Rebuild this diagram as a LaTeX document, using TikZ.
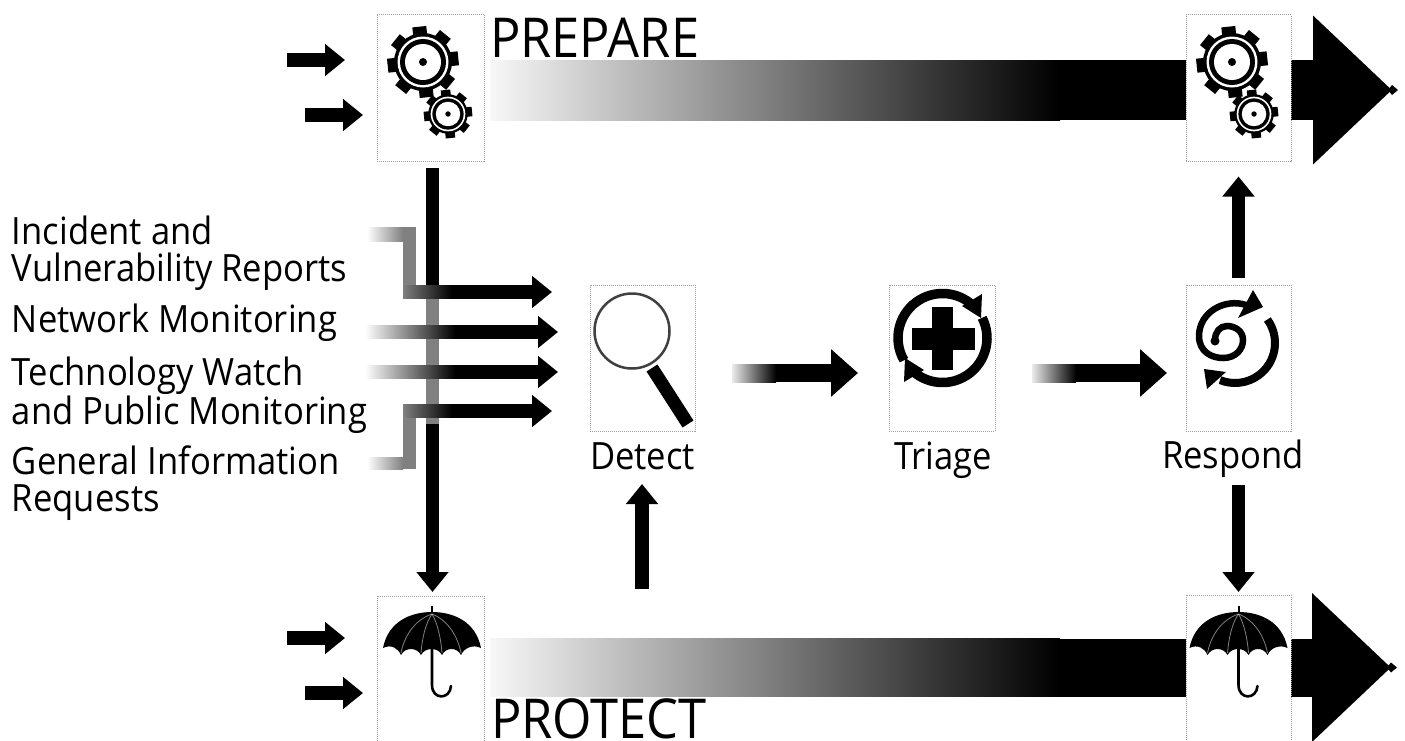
\documentclass[tikz,border=0pt]{standalone}
\usepackage{fontspec}
\setmainfont[FakeStretch=0.92]{Open Sans}
\usetikzlibrary{arrows.meta}
\tikzset{
  iconbox/.style={draw=black!38,line width=1pt,densely dotted,fill=white,inner sep=0pt,outer sep=0pt},
  barnode/.style={inner sep=0pt,outer sep=0pt,draw=none},
  thinarrow/.style={line width=13.5pt,draw=black,-{Triangle[length=20pt,width=31pt]}},
  midarrow/.style={line width=18pt,draw=black,-{Triangle[length=27pt,width=46pt]}},
  bigarrow/.style={draw=black,-{Triangle[length=79pt,width=144pt]}},
  lab/.style={inner sep=0pt,outer sep=0pt,align=left,font=\fontsize{37.6}{37}\selectfont},
  boxlab/.style={inner sep=0pt,outer sep=0pt,font=\fontsize{37.6}{37}\selectfont},
  title/.style={inner sep=0pt,outer sep=0pt,font=\fontsize{55}{60}\selectfont},
  gearicon/.pic={
    \fill[black] (0,0) circle (29);
    \foreach \a in {0,45,...,315}{
      \fill[black,rotate=\a+6] (-7,-35.5) rectangle (7,-20);
    }
    \fill[white] (0,0) circle (25.5);
    \fill[black] (0,0) circle (23);
    \fill[white] (0,0) circle (18);
    \fill[black] (0,0) circle (4);
  },
  umbrellaicon/.pic={
    \draw[line width=2.6pt,black,line cap=round] (0,36) -- (0,73) .. controls (0,88) and (18,88) .. (19,74);
    \fill[black] (-49,36) .. controls (-44,10) and (-22,0) .. (0,0)
      .. controls (22,0) and (44,10) .. (49,36)
      .. controls (41,32) and (32,36) .. (29,43)
      .. controls (25,35) and (14,35) .. (10,43)
      .. controls (6,35) and (-7,35) .. (-11,43)
      .. controls (-15,35) and (-27,35) .. (-31,43)
      .. controls (-34,36) and (-41,32) .. (-49,36) -- cycle;
    \fill[black] (-1,-6) -- (1,-6) -- (1,2) -- (-1,2) -- cycle;
    \draw[white,line width=0.8pt,opacity=.5] (0,2) .. controls (-18,8) and (-28,25) .. (-31,41);
    \draw[white,line width=0.8pt,opacity=.5] (0,2) .. controls (-7,12) and (-10,28) .. (-11,41);
    \draw[white,line width=0.8pt,opacity=.5] (0,2) .. controls (6,12) and (9,28) .. (10,41);
    \draw[white,line width=0.8pt,opacity=.5] (0,2) .. controls (16,8) and (26,25) .. (29,41);
  }
}
\newcommand{\gradbar}[7]{% name, x1, x2, ycentre, height, left colour, right colour
  \node[barnode,minimum width={(#3-#2)*1pt},minimum height=#5pt,left color=#6,right color=#7] (#1) at ({(#2+#3)/2},#4) {};
}
\begin{document}
\begin{tikzpicture}[x=1pt,y=-1pt]
\useasboundingbox (0,0) rectangle (1405,740);
\clip (0,0) rectangle (1405,740);
\fill[white] (0,0) rectangle (1405,740);

% large gradient bars
\gradbar{prepBar}{490}{1060}{90}{60}{black!3}{black}
\gradbar{protBar}{490}{1060}{667.5}{58}{black!3}{black}
\coordinate (prepTip) at (1392,90);
\coordinate (protTip) at (1391,667.5);
\draw[bigarrow,line width=60pt] (prepBar.east) -- (prepTip);
\draw[bigarrow,line width=58pt] (protBar.east) -- (protTip);
\fill[black] (1388,90) -- (1392,85) -- (1398,90) -- (1392,95) -- cycle;
\fill[black] (1387,667.5) -- (1391,662.5) -- (1397,667.5) -- (1391,672.5) -- cycle;

% boxes
\node[iconbox,minimum width=107pt,minimum height=147pt] (prepareBox) at (430.5,87.5) {};
\node[iconbox,minimum width=105pt,minimum height=147pt] (prepareEnd) at (1238.5,88) {};
\node[iconbox,minimum width=105pt,minimum height=146pt] (detectBox) at (642.5,358) {};
\node[iconbox,minimum width=106pt,minimum height=146pt] (triageBox) at (942,358) {};
\node[iconbox,minimum width=105pt,minimum height=146pt] (respondBox) at (1238.5,358) {};
\node[iconbox,minimum width=107pt,minimum height=150pt] (protectBox) at (430.5,671) {};
\node[iconbox,minimum width=105pt,minimum height=150pt] (protectEnd) at (1238.5,670) {};

% gears
\pic at (423,62) {gearicon};
\pic[scale=.68] at (448,114) {gearicon};
\pic at (1232,62) {gearicon};
\pic[scale=.68] at (1254,114) {gearicon};

% umbrellas
\pic at (432,612) {umbrellaicon};
\pic at (1238.5,612) {umbrellaicon};

% magnifier
\draw[black!75,line width=2.5pt] (632,331) circle (37.5);
\draw[black,line width=13pt] (652,368) -- (688,424);

% triage icon
\fill[black] (932,307) rectangle (953,370);
\fill[black] (912,328) rectangle (975,350);
\draw[black,line width=9.5pt] (942.5,338) ++(150:44.5) arc (150:312:44.5);
\draw[black,line width=9.5pt] (942.5,338) ++(333:44.5) arc (333:488:44.5);
\fill[black] (982,294) -- (962,306) -- (981,318) -- cycle;
\fill[black] (904,382) -- (924,370) -- (905,358) -- cycle;

% respond icon
\draw[black,line width=6.5pt,line cap=round] (1246,305) .. controls (1225,298) and (1199,312) .. (1199,336)
  .. controls (1199,352) and (1212,358) .. (1223,358)
  .. controls (1236,358) and (1243,349) .. (1243,340)
  .. controls (1243,331) and (1235,326) .. (1227,326)
  .. controls (1220,326) and (1215,332) .. (1215,340);
\fill[black] (1215,341) circle (4.5);
\fill[black] (1263,307) -- (1253,290) -- (1238,318) -- cycle;
\draw[black,line width=8pt] (1235,343) ++(-36:40) arc (-36:112:40);
\fill[black] (1204,369) -- (1207,389) -- (1226,372) -- cycle;

% vertical connectors
\draw[thinarrow,shorten <=6.5pt,shorten >=4pt] ([xshift=2pt]prepareBox.south) -- ([xshift=2pt]protectBox.north);
\fill[white,opacity=.5] (424,296) rectangle (440,424);

% incoming gradient arrows
\gradbar{repA}{367}{403}{234}{14}{white}{black!50}
\node[barnode,minimum width=13pt,minimum height=71pt,fill=black!50] (repB) at (409.5,262.5) {};
\gradbar{repC}{403}{452}{292}{13}{black!50}{black}
\draw[thinarrow,shorten >=38pt] (repC.east) -- (repC.east -| detectBox.west);

\gradbar{netA}{365}{455}{332}{13.5}{white}{black}
\draw[thinarrow,shorten >=32pt] (netA.east) -- (netA.east -| detectBox.west);

\gradbar{techA}{365}{455}{372}{13.5}{white}{black}
\draw[thinarrow,shorten >=32pt] (techA.east) -- (techA.east -| detectBox.west);

\gradbar{genA}{367}{403}{463}{12}{white}{black!50}
\node[barnode,minimum width=13pt,minimum height=64pt,fill=black!50] (genB) at (409.5,437) {};
\gradbar{genC}{403}{452}{411}{13}{black!50}{black}
\draw[thinarrow,shorten >=38pt] (genC.east) -- (genC.east -| detectBox.west);

% short input arrows
\coordinate (inA) at (287,60);
\coordinate (inB) at (305,115);
\coordinate (inC) at (287,638);
\coordinate (inD) at (305,693);
\draw[thinarrow,shorten >=32pt] (inA) -- (inA -| prepareBox.west);
\draw[thinarrow,shorten >=14pt] (inB) -- (inB -| prepareBox.west);
\draw[thinarrow,shorten >=32pt] (inC) -- (inC -| protectBox.west);
\draw[thinarrow,shorten >=14pt] (inD) -- (inD -| protectBox.west);

% process arrows
\gradbar{detOut}{732}{776}{373}{18}{black!8}{black}
\gradbar{triOut}{1032}{1076}{373}{18}{black!8}{black}
\draw[midarrow,shorten >=31pt] (detOut.east) -- (detOut.east -| triageBox.west);
\draw[midarrow,shorten >=19pt] (triOut.east) -- (triOut.east -| respondBox.west);

% labels
\node[boxlab,anchor=base] (detectLab) at (642.5,469) {Detect};
\node[boxlab,anchor=base] (triageLab) at (943,469) {Triage};
\node[boxlab,anchor=base] (respondLab) at (1233,468) {Respond};

\coordinate (protUp) at (642,589);
\coordinate (protUpEnd) at (642,484);
\coordinate (respDown) at (1238.5,485);
\draw[thinarrow] (protUp) -- (protUpEnd);
\draw[thinarrow,shorten <=7pt,shorten >=15pt] (respondBox.north) -- (prepareEnd.south);
\draw[thinarrow,shorten >=3pt] (respDown) -- (protectEnd.north);

\node[title,anchor=base west] (prepT) at (490,57) {PREPARE};
\node[title,anchor=base west] (protT) at (491,738.5) {PROTECT};

\node[lab,anchor=north west] (lab1) at (12,216) {Incident and\\Vulnerability Reports};
\node[lab,anchor=north west] (lab2) at (12,304) {Network Monitoring};
\node[lab,anchor=north west] (lab3) at (12,357) {Technology Watch\\and Public Monitoring};
\node[lab,anchor=north west] (lab4) at (12,446) {General Information\\Requests};
\end{tikzpicture}
\end{document}
